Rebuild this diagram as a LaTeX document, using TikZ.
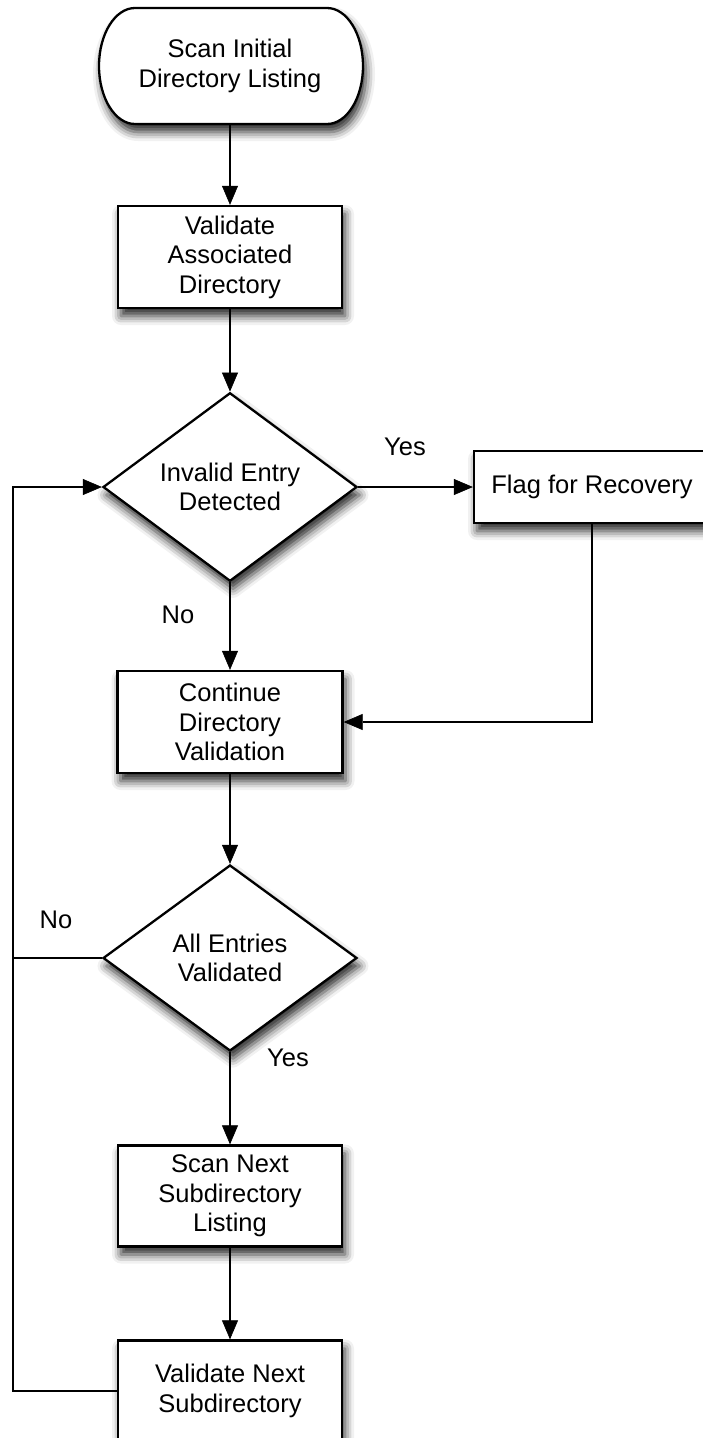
\documentclass[tikz,border=0pt]{standalone}
\usepackage{fontspec}
\setmainfont{Liberation Sans}
\usetikzlibrary{arrows.meta,shapes.geometric,shadows.blur}
\begin{document}
\begin{tikzpicture}[x=1pt,y=-1pt,
  font=\fontsize{25.5}{29.5}\selectfont,
  conn/.style={line width=2.3pt},
  arr/.style={conn,-{Triangle[length=19pt,width=16pt,fill=black,line width=0.6pt]}},
  soft/.style={blur shadow={shadow xshift=3pt,shadow yshift=-8pt,shadow blur radius=9pt,shadow opacity=85}},
  proc/.style={draw,line width=2.3pt,fill=white,rectangle,align=center,inner sep=0pt,soft},
  dec/.style={draw,line width=2.3pt,fill=white,diamond,align=center,inner sep=0pt,
              minimum width=254pt,minimum height=186pt,soft},
  lbl/.style={inner sep=0pt}]
\useasboundingbox (0,0) rectangle (703,1438);

% start terminator: straight top and bottom, elliptical ends
\path[draw,line width=2.3pt,fill=white,soft]
  (135,8) -- (327,8) arc[start angle=-90,end angle=90,x radius=36,y radius=58]
  -- (135,124) arc[start angle=90,end angle=270,x radius=36,y radius=58] -- cycle;
\node[align=center,inner sep=0pt,minimum width=264pt,minimum height=116pt] (start) at (230,66)
  {Scan Initial\\Directory Listing};

% process steps and decisions
\node[proc,minimum width=224pt,minimum height=102pt] (assoc) at (230,257)
  {Validate\\Associated\\Directory};
\node[dec] (invalid) at (230,487) {Invalid Entry\\Detected};
\node[proc,minimum width=236pt,minimum height=72pt] (flag) at (592,487) {Flag for Recovery};
\node[proc,minimum width=225pt,minimum height=102pt] (cont) at (230,722)
  {Continue\\Directory\\Validation};
\node[dec] (all) at (230,958) {All Entries\\Validated};
\node[proc,minimum width=224pt,minimum height=101pt] (scan) at (230,1196)
  {Scan Next\\Subdirectory\\Listing};
\node[proc,minimum width=224pt,minimum height=101pt] (vnext) at (230,1391)
  {Validate Next\\Subdirectory};

\coordinate (loop) at (13,487);

% connectors
\draw[arr] (start) -- (assoc);
\draw[arr] (assoc) -- (invalid);
\draw[arr] (invalid.east) -- (flag.west);
\draw[arr] (invalid) -- (cont);
\draw[arr] (flag.south) |- (cont.east);
\draw[arr] (cont) -- (all);
\draw[arr] (all) -- (scan);
\draw[arr] (scan) -- (vnext);
\draw[conn] (all.west) -- (all.west -| loop);
\draw[arr] (vnext.west) -| (loop) -- (invalid.west);

% branch labels
\node[lbl] (yes1) at (405,447) {Yes};
\node[lbl] (no1) at (178,615) {No};
\node[lbl] (no2) at (56,920) {No};
\node[lbl] (yes2) at (288,1058) {Yes};
\end{tikzpicture}
\end{document}
